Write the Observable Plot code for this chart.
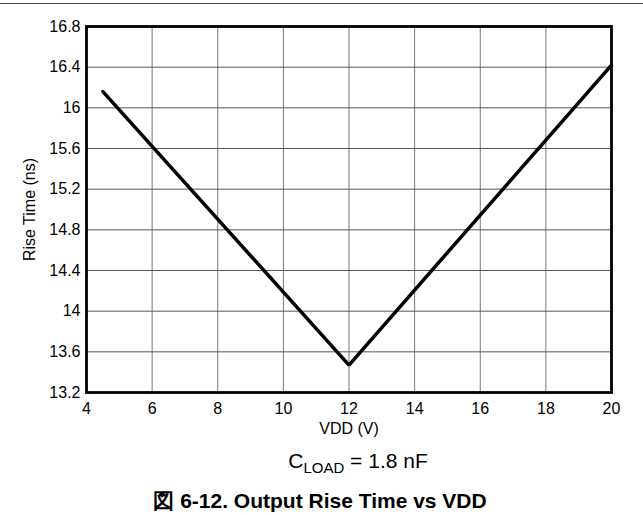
<!DOCTYPE html>
<html>
<head>
<meta charset="utf-8">
<script src="https://cdn.jsdelivr.net/npm/d3@7"></script>
<script src="https://cdn.jsdelivr.net/npm/@observablehq/plot@0.6"></script>
<style>
  body { margin: 0; background: #fff; font-family: "Liberation Sans", Arial, sans-serif; position: relative; width: 643px; height: 515px; overflow: hidden; }
  #topline { position: absolute; top: 3px; left: 0; width: 643px; height: 0; border-top: 1.5px solid #444; }
  #chart { position: absolute; top: 0; left: 0; }
  #chart svg { display: block; }
  .cond { position: absolute; left: 258px; width: 200px; top: 450px; text-align: center; font-size: 21px; line-height: 21px; color: #000; white-space: nowrap; }
  .cond sub { font-size: 15px; line-height: 0; vertical-align: -5px; }
  .title { position: absolute; left: 0; width: 640px; top: 490px; text-align: center; font-size: 21px; line-height: 21px; font-weight: bold; color: #000; white-space: nowrap; }
</style>
</head>
<body>
<div id="chart"></div>
<div id="topline"></div>
<div class="cond">C<sub>LOAD</sub> = 1.8 nF</div>
<div class="title">図 6-12. Output Rise Time vs VDD</div>
<script>
const vdd = [4.5, 12, 20];
const riseTime = [16.16, 13.47, 16.42];
const xTicks = [4, 6, 8, 10, 12, 14, 16, 18, 20];
const yTicks = [13.2, 13.6, 14, 14.4, 14.8, 15.2, 15.6, 16, 16.4, 16.8];

const data = vdd.map((v, i) => ({x: v, y: riseTime[i]}));

const chart = Plot.plot({
  width: 643,
  height: 440,
  marginLeft: 86,
  marginRight: 32,
  marginTop: 26,
  marginBottom: 48,
  style: {fontSize: "16px", fontFamily: "Liberation Sans, Arial, sans-serif", color: "#000", background: "transparent"},
  x: {domain: [4, 20]},
  y: {domain: [13.2, 16.8]},
  marks: [
    Plot.gridX(xTicks, {stroke: "#777", strokeOpacity: 1, strokeWidth: 1}),
    Plot.gridY(yTicks, {stroke: "#555", strokeOpacity: 1, strokeWidth: 1}),
    Plot.axisX(xTicks, {tickSize: 0, tickPadding: 10, fontSize: 16, label: "VDD (V)", labelAnchor: "center", labelArrow: "none", labelOffset: 41}),
    Plot.axisY(yTicks, {tickSize: 0, tickPadding: 6, fontSize: 16, label: "Rise Time (ns)", labelAnchor: "center", labelArrow: "none", labelOffset: 63,
      tickFormat: d => String(+d.toFixed(1))}),
    Plot.line(data, {x: "x", y: "y", stroke: "#000", strokeWidth: 3.5, strokeLinejoin: "miter"}),
    Plot.frame({stroke: "#000", strokeWidth: 2.8})
  ]
});
document.getElementById("chart").appendChild(chart);
</script>
</body>
</html>
